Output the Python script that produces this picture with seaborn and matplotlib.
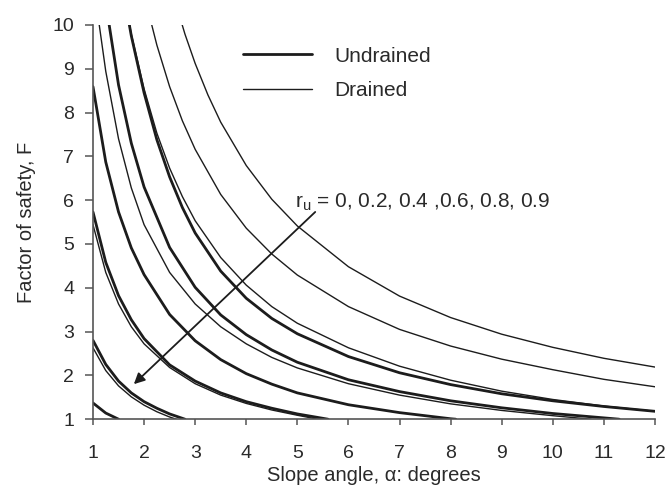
import matplotlib
matplotlib.use("Agg")
import matplotlib.pyplot as plt
import pandas as pd
import seaborn as sns

# ---------------- data ----------------
# Drained curves (thin)
d1_alpha = [2.6, 2.8, 3, 3.25, 3.5, 4, 4.5, 5, 6, 7, 8, 9, 10, 11, 12]
d1_F = [10.57, 9.79, 9.12, 8.40, 7.78, 6.79, 6.02, 5.41, 4.48, 3.81, 3.32, 2.94, 2.64, 2.39, 2.19]

d2_alpha = [2.1, 2.25, 2.5, 2.75, 3, 3.5, 4, 4.5, 5, 6, 7, 8, 9, 10, 11, 12]
d2_F = [10.23, 9.54, 8.59, 7.81, 7.16, 6.13, 5.36, 4.77, 4.29, 3.57, 3.05, 2.67, 2.37, 2.13, 1.91, 1.74]

d3_alpha = [1.65, 1.75, 2, 2.25, 2.5, 2.75, 3, 3.5, 4, 4.5, 5, 6, 7, 8, 9, 10, 11, 12]
d3_F = [10.4, 9.79, 8.54, 7.53, 6.73, 6.08, 5.53, 4.69, 4.06, 3.57, 3.19, 2.63, 2.21, 1.89, 1.64, 1.45, 1.30, 1.18]

d4_alpha = [1.05, 1.25, 1.5, 1.75, 2, 2.5, 3, 3.5, 4, 4.5, 5, 6, 7, 8, 9, 10, 10.75]
d4_F = [10.6, 8.94, 7.40, 6.28, 5.44, 4.35, 3.63, 3.11, 2.72, 2.41, 2.17, 1.81, 1.55, 1.35, 1.20, 1.08, 1.0]

d5_alpha = [1, 1.25, 1.5, 1.75, 2, 2.5, 3, 3.5, 4, 4.5, 5, 5.4]
d5_F = [5.44, 4.35, 3.63, 3.11, 2.72, 2.18, 1.81, 1.55, 1.36, 1.21, 1.09, 1.0]

d6_alpha = [1, 1.25, 1.5, 1.75, 2, 2.25, 2.5, 2.63]
d6_F = [2.63, 2.11, 1.76, 1.51, 1.32, 1.17, 1.05, 1.0]

# Undrained curves (thick)
u1_alpha = [1.65, 1.75, 2, 2.25, 2.5, 2.75, 3, 3.5, 4, 4.5, 5, 6, 7, 8, 9, 10, 11, 12]
u1_F = [10.4, 9.75, 8.45, 7.38, 6.53, 5.83, 5.25, 4.38, 3.76, 3.30, 2.95, 2.43, 2.06, 1.79, 1.58, 1.42, 1.29, 1.18]

u2_alpha = [1.25, 1.5, 1.75, 2, 2.5, 3, 3.5, 4, 4.5, 5, 6, 7, 8, 9, 10, 11, 11.3]
u2_F = [10.5, 8.63, 7.30, 6.30, 4.92, 4.01, 3.38, 2.93, 2.58, 2.30, 1.90, 1.63, 1.42, 1.26, 1.13, 1.03, 1.0]

u3_alpha = [1, 1.25, 1.5, 1.75, 2, 2.5, 3, 3.5, 4, 4.5, 5, 6, 7, 8, 8.1]
u3_F = [8.59, 6.87, 5.73, 4.91, 4.30, 3.39, 2.79, 2.36, 2.04, 1.80, 1.60, 1.33, 1.15, 1.01, 1.0]

u4_alpha = [1, 1.25, 1.5, 1.75, 2, 2.5, 3, 3.5, 4, 4.5, 5, 5.6]
u4_F = [5.73, 4.58, 3.82, 3.27, 2.84, 2.24, 1.87, 1.60, 1.40, 1.25, 1.12, 1.0]

u5_alpha = [1, 1.25, 1.5, 1.75, 2, 2.25, 2.5, 2.8]
u5_F = [2.80, 2.25, 1.87, 1.60, 1.40, 1.25, 1.12, 1.0]

u6_alpha = [1, 1.25, 1.5]
u6_F = [1.37, 1.14, 1.0]

drained = [(d1_alpha, d1_F), (d2_alpha, d2_F), (d3_alpha, d3_F),
           (d4_alpha, d4_F), (d5_alpha, d5_F), (d6_alpha, d6_F)]
undrained = [(u1_alpha, u1_F), (u2_alpha, u2_F), (u3_alpha, u3_F),
             (u4_alpha, u4_F), (u5_alpha, u5_F), (u6_alpha, u6_F)]

x_ticks = list(range(1, 13))
y_ticks = list(range(1, 11))
x_label = "Slope angle, α: degrees"
y_label = "Factor of safety, F"
ru_label = r"r$_\mathregular{u}$ = 0, 0.2, 0.4 ,0.6, 0.8, 0.9"

# ---------------- build table ----------------
rows = []
for cond, curves in (("Undrained", undrained), ("Drained", drained)):
    for i, (a, f) in enumerate(curves):
        for ai, fi in zip(a, f):
            rows.append({"alpha": ai, "F": fi, "cond": cond, "curve": f"{cond}{i}"})
df = pd.DataFrame(rows)

# ---------------- plot ----------------
sns.set_theme(style="ticks")
plt.rcParams['font.family'] = ['Liberation Sans', 'DejaVu Sans']

fig, ax = plt.subplots(figsize=(6.69, 4.88), dpi=100)
fig.subplots_adjust(left=0.139, right=0.979, top=0.949, bottom=0.141)

ink = "#1c1c1c"
widths = {"Undrained": 2.0, "Drained": 1.0}
seen = set()
for cid, sub in df.groupby("curve", sort=False):
    cond = sub["cond"].iloc[0]
    lab = cond if cond not in seen else "_nolegend_"
    seen.add(cond)
    sns.lineplot(data=sub, x="alpha", y="F", ax=ax, color=ink,
                 linewidth=widths[cond], estimator=None, sort=False,
                 label=lab)

ax.set_xlim(1, 12)
ax.set_ylim(1, 10)
ax.set_xticks(x_ticks)
ax.set_yticks(y_ticks)

for s in ("top", "right"):
    ax.spines[s].set_visible(False)
for s in ("left", "bottom"):
    ax.spines[s].set_color("#555555")
    ax.spines[s].set_linewidth(1.2)

ax.tick_params(axis="x", direction="out", length=4.5, width=1.1, color="#555555",
               labelsize=14, labelcolor="#2a2a2a", pad=14)
ax.tick_params(axis="y", direction="out", length=5.5, width=1.1, color="#555555",
               labelsize=14, labelcolor="#2a2a2a", pad=8)

ax.set_xlabel(x_label, fontsize=14.5, color="#2a2a2a", labelpad=3)
ax.set_ylabel(y_label, fontsize=14.5, color="#2a2a2a", labelpad=12)

leg = ax.legend(loc="upper left", bbox_to_anchor=(0.267, 0.945), frameon=False,
                fontsize=15, handlelength=3.3, handletextpad=1.1,
                labelspacing=0.75, borderaxespad=0, borderpad=0)
for t in leg.get_texts():
    t.set_color("#2a2a2a")

ax.text(4.96, 5.84, ru_label, fontsize=15, color="#2a2a2a",
        ha="left", va="baseline")

ax.annotate("", xy=(1.80, 1.80), xytext=(5.35, 5.73),
            arrowprops=dict(arrowstyle="-|>", color=ink, lw=1.3,
                            mutation_scale=16, shrinkA=0, shrinkB=0))

fig.savefig("out.png", dpi=100)
